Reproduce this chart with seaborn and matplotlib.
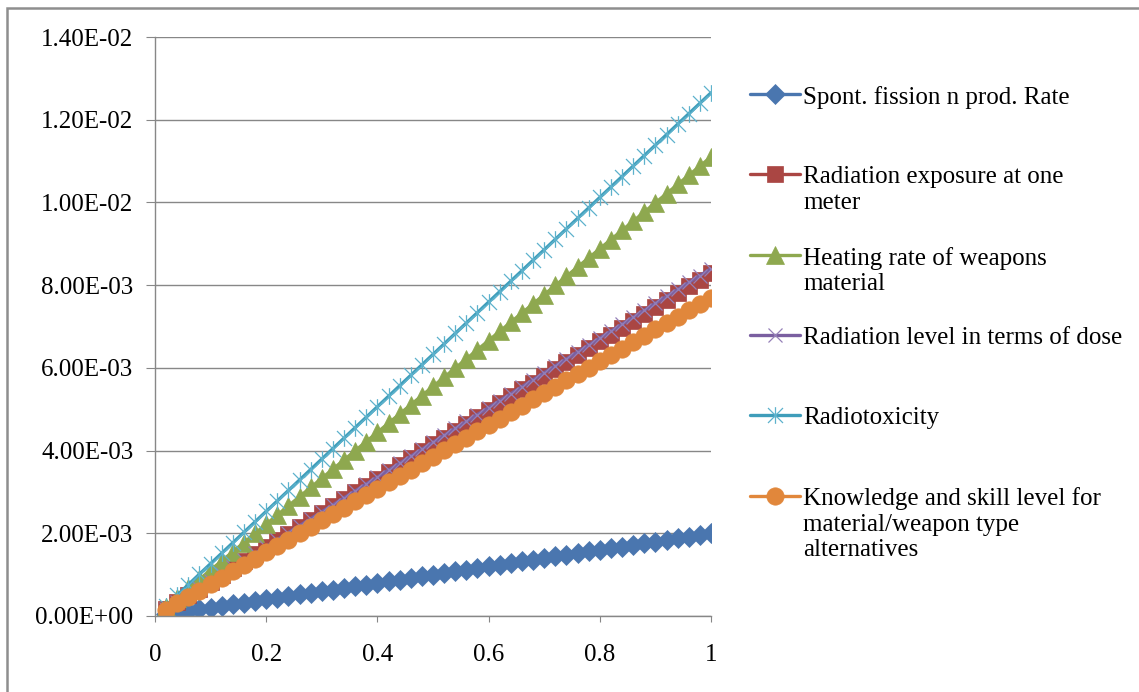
import matplotlib
matplotlib.use("Agg")
import matplotlib.pyplot as plt
import pandas as pd
import seaborn as sns
from matplotlib.path import Path
from matplotlib.lines import Line2D
from matplotlib.patches import Rectangle
from matplotlib.ticker import FixedLocator, FuncFormatter

# ---------------------------------------------------------------- data
fraction = [0.02, 0.04, 0.06, 0.08, 0.10, 0.12, 0.14, 0.16, 0.18, 0.20,
            0.22, 0.24, 0.26, 0.28, 0.30, 0.32, 0.34, 0.36, 0.38, 0.40,
            0.42, 0.44, 0.46, 0.48, 0.50, 0.52, 0.54, 0.56, 0.58, 0.60,
            0.62, 0.64, 0.66, 0.68, 0.70, 0.72, 0.74, 0.76, 0.78, 0.80,
            0.82, 0.84, 0.86, 0.88, 0.90, 0.92, 0.94, 0.96, 0.98, 1.00]

spont_fission = [0.04e-3, 0.08e-3, 0.12e-3, 0.16e-3, 0.20e-3, 0.24e-3, 0.28e-3, 0.32e-3, 0.36e-3, 0.40e-3,
                 0.44e-3, 0.48e-3, 0.52e-3, 0.56e-3, 0.60e-3, 0.64e-3, 0.68e-3, 0.72e-3, 0.76e-3, 0.80e-3,
                 0.84e-3, 0.88e-3, 0.92e-3, 0.96e-3, 1.00e-3, 1.04e-3, 1.08e-3, 1.12e-3, 1.16e-3, 1.20e-3,
                 1.24e-3, 1.28e-3, 1.32e-3, 1.36e-3, 1.40e-3, 1.44e-3, 1.48e-3, 1.52e-3, 1.56e-3, 1.60e-3,
                 1.64e-3, 1.68e-3, 1.72e-3, 1.76e-3, 1.80e-3, 1.84e-3, 1.88e-3, 1.92e-3, 1.96e-3, 2.00e-3]

exposure_one_meter = [0.166e-3, 0.332e-3, 0.498e-3, 0.664e-3, 0.830e-3, 0.996e-3, 1.162e-3, 1.328e-3, 1.494e-3, 1.660e-3,
                      1.826e-3, 1.992e-3, 2.158e-3, 2.324e-3, 2.490e-3, 2.656e-3, 2.822e-3, 2.988e-3, 3.154e-3, 3.320e-3,
                      3.486e-3, 3.652e-3, 3.818e-3, 3.984e-3, 4.150e-3, 4.316e-3, 4.482e-3, 4.648e-3, 4.814e-3, 4.980e-3,
                      5.146e-3, 5.312e-3, 5.478e-3, 5.644e-3, 5.810e-3, 5.976e-3, 6.142e-3, 6.308e-3, 6.474e-3, 6.640e-3,
                      6.806e-3, 6.972e-3, 7.138e-3, 7.304e-3, 7.470e-3, 7.636e-3, 7.802e-3, 7.968e-3, 8.134e-3, 8.300e-3]

heating_rate = [0.222e-3, 0.444e-3, 0.666e-3, 0.888e-3, 1.110e-3, 1.332e-3, 1.554e-3, 1.776e-3, 1.998e-3, 2.220e-3,
                2.442e-3, 2.664e-3, 2.886e-3, 3.108e-3, 3.330e-3, 3.552e-3, 3.774e-3, 3.996e-3, 4.218e-3, 4.440e-3,
                4.662e-3, 4.884e-3, 5.106e-3, 5.328e-3, 5.550e-3, 5.772e-3, 5.994e-3, 6.216e-3, 6.438e-3, 6.660e-3,
                6.882e-3, 7.104e-3, 7.326e-3, 7.548e-3, 7.770e-3, 7.992e-3, 8.214e-3, 8.436e-3, 8.658e-3, 8.880e-3,
                9.102e-3, 9.324e-3, 9.546e-3, 9.768e-3, 9.990e-3, 10.212e-3, 10.434e-3, 10.656e-3, 10.878e-3, 11.100e-3]

dose_level = [0.168e-3, 0.336e-3, 0.504e-3, 0.672e-3, 0.840e-3, 1.008e-3, 1.176e-3, 1.344e-3, 1.512e-3, 1.680e-3,
              1.848e-3, 2.016e-3, 2.184e-3, 2.352e-3, 2.520e-3, 2.688e-3, 2.856e-3, 3.024e-3, 3.192e-3, 3.360e-3,
              3.528e-3, 3.696e-3, 3.864e-3, 4.032e-3, 4.200e-3, 4.368e-3, 4.536e-3, 4.704e-3, 4.872e-3, 5.040e-3,
              5.208e-3, 5.376e-3, 5.544e-3, 5.712e-3, 5.880e-3, 6.048e-3, 6.216e-3, 6.384e-3, 6.552e-3, 6.720e-3,
              6.888e-3, 7.056e-3, 7.224e-3, 7.392e-3, 7.560e-3, 7.728e-3, 7.896e-3, 8.064e-3, 8.232e-3, 8.400e-3]

radiotoxicity = [0.253e-3, 0.506e-3, 0.759e-3, 1.012e-3, 1.265e-3, 1.518e-3, 1.771e-3, 2.024e-3, 2.277e-3, 2.530e-3,
                 2.783e-3, 3.036e-3, 3.289e-3, 3.542e-3, 3.795e-3, 4.048e-3, 4.301e-3, 4.554e-3, 4.807e-3, 5.060e-3,
                 5.313e-3, 5.566e-3, 5.819e-3, 6.072e-3, 6.325e-3, 6.578e-3, 6.831e-3, 7.084e-3, 7.337e-3, 7.590e-3,
                 7.843e-3, 8.096e-3, 8.349e-3, 8.602e-3, 8.855e-3, 9.108e-3, 9.361e-3, 9.614e-3, 9.867e-3, 10.120e-3,
                 10.373e-3, 10.626e-3, 10.879e-3, 11.132e-3, 11.385e-3, 11.638e-3, 11.891e-3, 12.144e-3, 12.397e-3, 12.650e-3]

knowledge_skill = [0.154e-3, 0.308e-3, 0.462e-3, 0.616e-3, 0.770e-3, 0.924e-3, 1.078e-3, 1.232e-3, 1.386e-3, 1.540e-3,
                   1.694e-3, 1.848e-3, 2.002e-3, 2.156e-3, 2.310e-3, 2.464e-3, 2.618e-3, 2.772e-3, 2.926e-3, 3.080e-3,
                   3.234e-3, 3.388e-3, 3.542e-3, 3.696e-3, 3.850e-3, 4.004e-3, 4.158e-3, 4.312e-3, 4.466e-3, 4.620e-3,
                   4.774e-3, 4.928e-3, 5.082e-3, 5.236e-3, 5.390e-3, 5.544e-3, 5.698e-3, 5.852e-3, 6.006e-3, 6.160e-3,
                   6.314e-3, 6.468e-3, 6.622e-3, 6.776e-3, 6.930e-3, 7.084e-3, 7.238e-3, 7.392e-3, 7.546e-3, 7.700e-3]

series_labels = [
    "Spont. fission n prod. Rate",
    "Radiation exposure at one\nmeter",
    "Heating rate of weapons\nmaterial",
    "Radiation level in terms of dose",
    "Radiotoxicity",
    "Knowledge and skill level for\nmaterial/weapon type\nalternatives",
]
series_values = [spont_fission, exposure_one_meter, heating_rate,
                 dose_level, radiotoxicity, knowledge_skill]

x_ticks = [0, 0.2, 0.4, 0.6, 0.8, 1]
y_ticks = [0.0, 0.002, 0.004, 0.006, 0.008, 0.010, 0.012, 0.014]

# ---------------------------------------------------------------- styling
W, H = 1139, 692
GRAY = "#878787"

# asterisk marker: an X with a vertical bar through it
asterisk = Path([(-0.45, -0.45), (0.45, 0.45), (-0.45, 0.45), (0.45, -0.45),
                 (0.0, -0.5), (0.0, 0.5)],
                [Path.MOVETO, Path.LINETO] * 3)

styles = [
    dict(color="#4A76AF", marker="D", markersize=10.0, markerfacecolor="#4A76AF",
         markeredgecolor="#4A76AF", markeredgewidth=0.5),
    dict(color="#AA4643", marker="s", markersize=11.0, markerfacecolor="#AA4643",
         markeredgecolor="#AA4643", markeredgewidth=0.5),
    dict(color="#8EA84F", marker="^", markersize=12.5, markerfacecolor="#8EA84F",
         markeredgecolor="#8EA84F", markeredgewidth=0.5),
    dict(color="#7A5FA0", marker="x", markersize=9.5, markerfacecolor="none",
         markeredgecolor="#9580B8", markeredgewidth=0.9),
    dict(color="#3F9DBA", marker=asterisk, markersize=12.0, markerfacecolor="none",
         markeredgecolor="#5DB2CC", markeredgewidth=0.9),
    dict(color="#E1873B", marker="o", markersize=12.5, markerfacecolor="#E1873B",
         markeredgecolor="#E1873B", markeredgewidth=0.5),
]

sns.set_style("white")
plt.rcParams["font.family"] = ["Liberation Serif", "DejaVu Serif"]
plt.rcParams["font.size"] = 18

fig = plt.figure(figsize=(W / 100, H / 100), dpi=100)
fig.patch.set_facecolor("white")
ax = fig.add_axes([155 / W, 1 - 616 / H, (711 - 155) / W, (616 - 37) / H])

for label, values, st in zip(series_labels, series_values, styles):
    df = pd.DataFrame({"fraction": fraction, "value": values})
    sns.lineplot(data=df, x="fraction", y="value", ax=ax, linewidth=2.4,
                 legend=False, errorbar=None, sort=False, **st)

# ---------------------------------------------------------------- axes
ax.set_xlim(0, 1)
ax.set_ylim(0, 0.014)
ax.xaxis.set_major_locator(FixedLocator(x_ticks))
ax.yaxis.set_major_locator(FixedLocator(y_ticks))
ax.xaxis.set_major_formatter(FuncFormatter(lambda v, p: f"{v:g}"))
ax.yaxis.set_major_formatter(FuncFormatter(lambda v, p: f"{v:.2E}"))
ax.set_xlabel("")
ax.set_ylabel("")

ax.yaxis.grid(True, color=GRAY, linewidth=1.0)
ax.xaxis.grid(False)
ax.set_axisbelow(True)
for side in ("top", "right"):
    ax.spines[side].set_visible(False)
for side in ("left", "bottom"):
    ax.spines[side].set_color(GRAY)
    ax.spines[side].set_linewidth(1.0)

ax.tick_params(axis="y", direction="out", length=6.5, width=0.8, color=GRAY,
               pad=9, labelsize=18, labelcolor="black", left=True)
ax.tick_params(axis="x", direction="out", length=4.5, width=0.8, color=GRAY,
               pad=15.5, labelsize=18, labelcolor="black", bottom=True)

# ---------------------------------------------------------------- legend
for i, (label, st) in enumerate(zip(series_labels, styles)):
    yc = 1 - (94 + 80.3 * i) / H
    handle = Line2D([750 / W, 775 / W, 800 / W], [yc, yc, yc],
                    transform=fig.transFigure, linewidth=2.4, markevery=[1], **st)
    fig.add_artist(handle)
    fig.text(803 / W, 1 - (86 + 80.3 * i) / H, label, ha="left", va="top",
             fontsize=18, color="black", linespacing=1.2)

# chart area frame
fig.add_artist(Rectangle((6.8 / W, -0.5), 2.0, (1 - 8.3 / H) + 0.5,
                         transform=fig.transFigure, fill=False,
                         edgecolor="#8E8E8E", linewidth=1.8))

fig.savefig("out.png", dpi=100, facecolor="white")
